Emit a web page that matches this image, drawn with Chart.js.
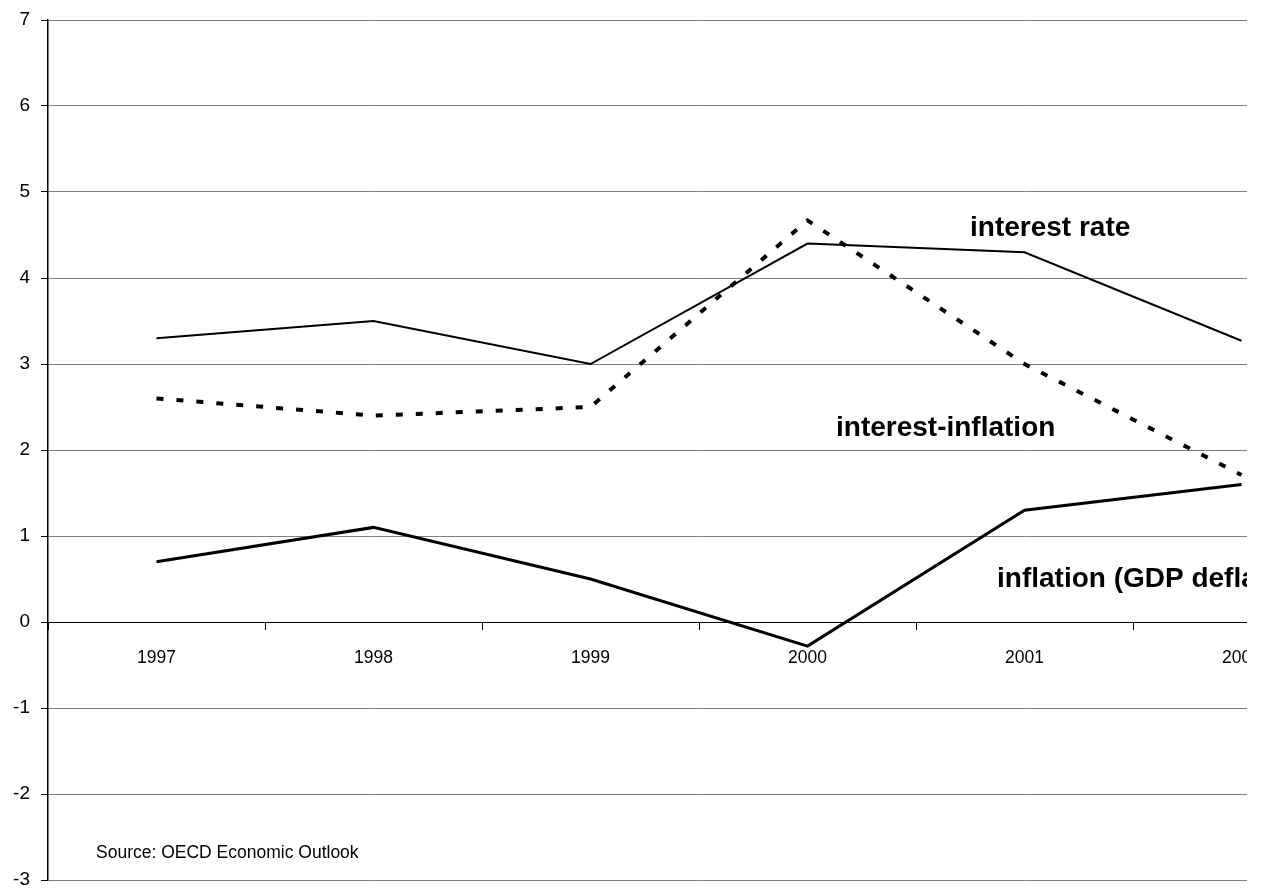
<!DOCTYPE html>
<html>
<head>
<meta charset="utf-8">
<script src="https://cdn.jsdelivr.net/npm/chart.js@4.4.0/dist/chart.umd.min.js"></script>
<style>
  body { margin: 0; background: #fff; overflow: hidden; }
  #wrap { width: 1247px; height: 890px; overflow: hidden; position: relative; }
</style>
</head>
<body>
<div id="wrap"><canvas id="myChart" width="1350" height="890"></canvas></div>
<script>
var years = ['1997', '1998', '1999', '2000', '2001', '2002']
var interestRate = [3.3, 3.5, 3.0, 4.4, 4.3, 3.27]
var interestInflation = [2.6, 2.4, 2.5, 4.67, 3.0, 1.71]
var inflation = [0.7, 1.1, 0.5, -0.28, 1.3, 1.6]
var yMin = -3
var yMax = 7

// text drawn on the plot, like the original
var notes = {
    id: 'notes',
    afterDatasetsDraw: function (chart) {
        var ctx = chart.ctx
        ctx.save()
        ctx.fillStyle = '#000'
        ctx.textBaseline = 'alphabetic'
        ctx.textAlign = 'left'
        ctx.font = 'bold 28px "Liberation Sans", Arial, sans-serif'
        ctx.fillText('interest rate', 970, 236)
        ctx.fillText('interest-inflation', 836, 436)
        ctx.fillText('inflation (GDP deflator)', 997, 587)
        ctx.font = '17.5px "Liberation Sans", Arial, sans-serif'
        ctx.fillText('Source: OECD Economic Outlook', 96, 858)
        ctx.restore()
    }
}

var myChart = new Chart('myChart', {
    type: 'line',
    data: {
        labels: years,
        datasets: [{
            label: 'interest rate',
            data: interestRate,
            borderColor: '#000',
            borderWidth: 2,
            pointRadius: 0,
            tension: 0
        }, {
            label: 'interest-inflation',
            data: interestInflation,
            borderColor: '#000',
            borderWidth: 4,
            borderDash: [7, 13],
            pointRadius: 0,
            tension: 0
        }, {
            label: 'inflation (GDP deflator)',
            data: inflation,
            borderColor: '#000',
            borderWidth: 3,
            pointRadius: 0,
            tension: 0
        }]
    },
    options: {
        responsive: false,
        animation: false,
        layout: { padding: { top: 20, bottom: 10, left: 0, right: 0 } },
        plugins: {
            legend: { display: false },
            tooltip: { enabled: false }
        },
        scales: {
            x: {
                position: { y: 0 },
                offset: true,
                grid: {
                    offset: true,
                    drawOnChartArea: false,
                    drawTicks: true,
                    tickLength: 7,
                    color: '#000'
                },
                border: { display: true, color: '#000', width: 1 },
                ticks: {
                    color: '#000',
                    padding: 19,
                    maxRotation: 0,
                    font: { family: '"Liberation Sans", Arial, sans-serif', size: 17.5 }
                },
                afterFit: function (scale) {
                    scale.paddingLeft = 0
                    scale.paddingRight = 0
                }
            },
            y: {
                min: yMin,
                max: yMax,
                grid: {
                    color: '#808080',
                    tickColor: '#000',
                    tickLength: 7
                },
                border: { display: true, color: '#000', width: 1.5 },
                ticks: {
                    stepSize: 1,
                    color: '#000',
                    padding: 11,
                    font: { family: '"Liberation Sans", Arial, sans-serif', size: 19 }
                },
                afterFit: function (scale) {
                    scale.width = 48
                    scale.paddingTop = 0
                    scale.paddingBottom = 0
                }
            }
        }
    },
    plugins: [notes]
})
</script>
</body>
</html>
